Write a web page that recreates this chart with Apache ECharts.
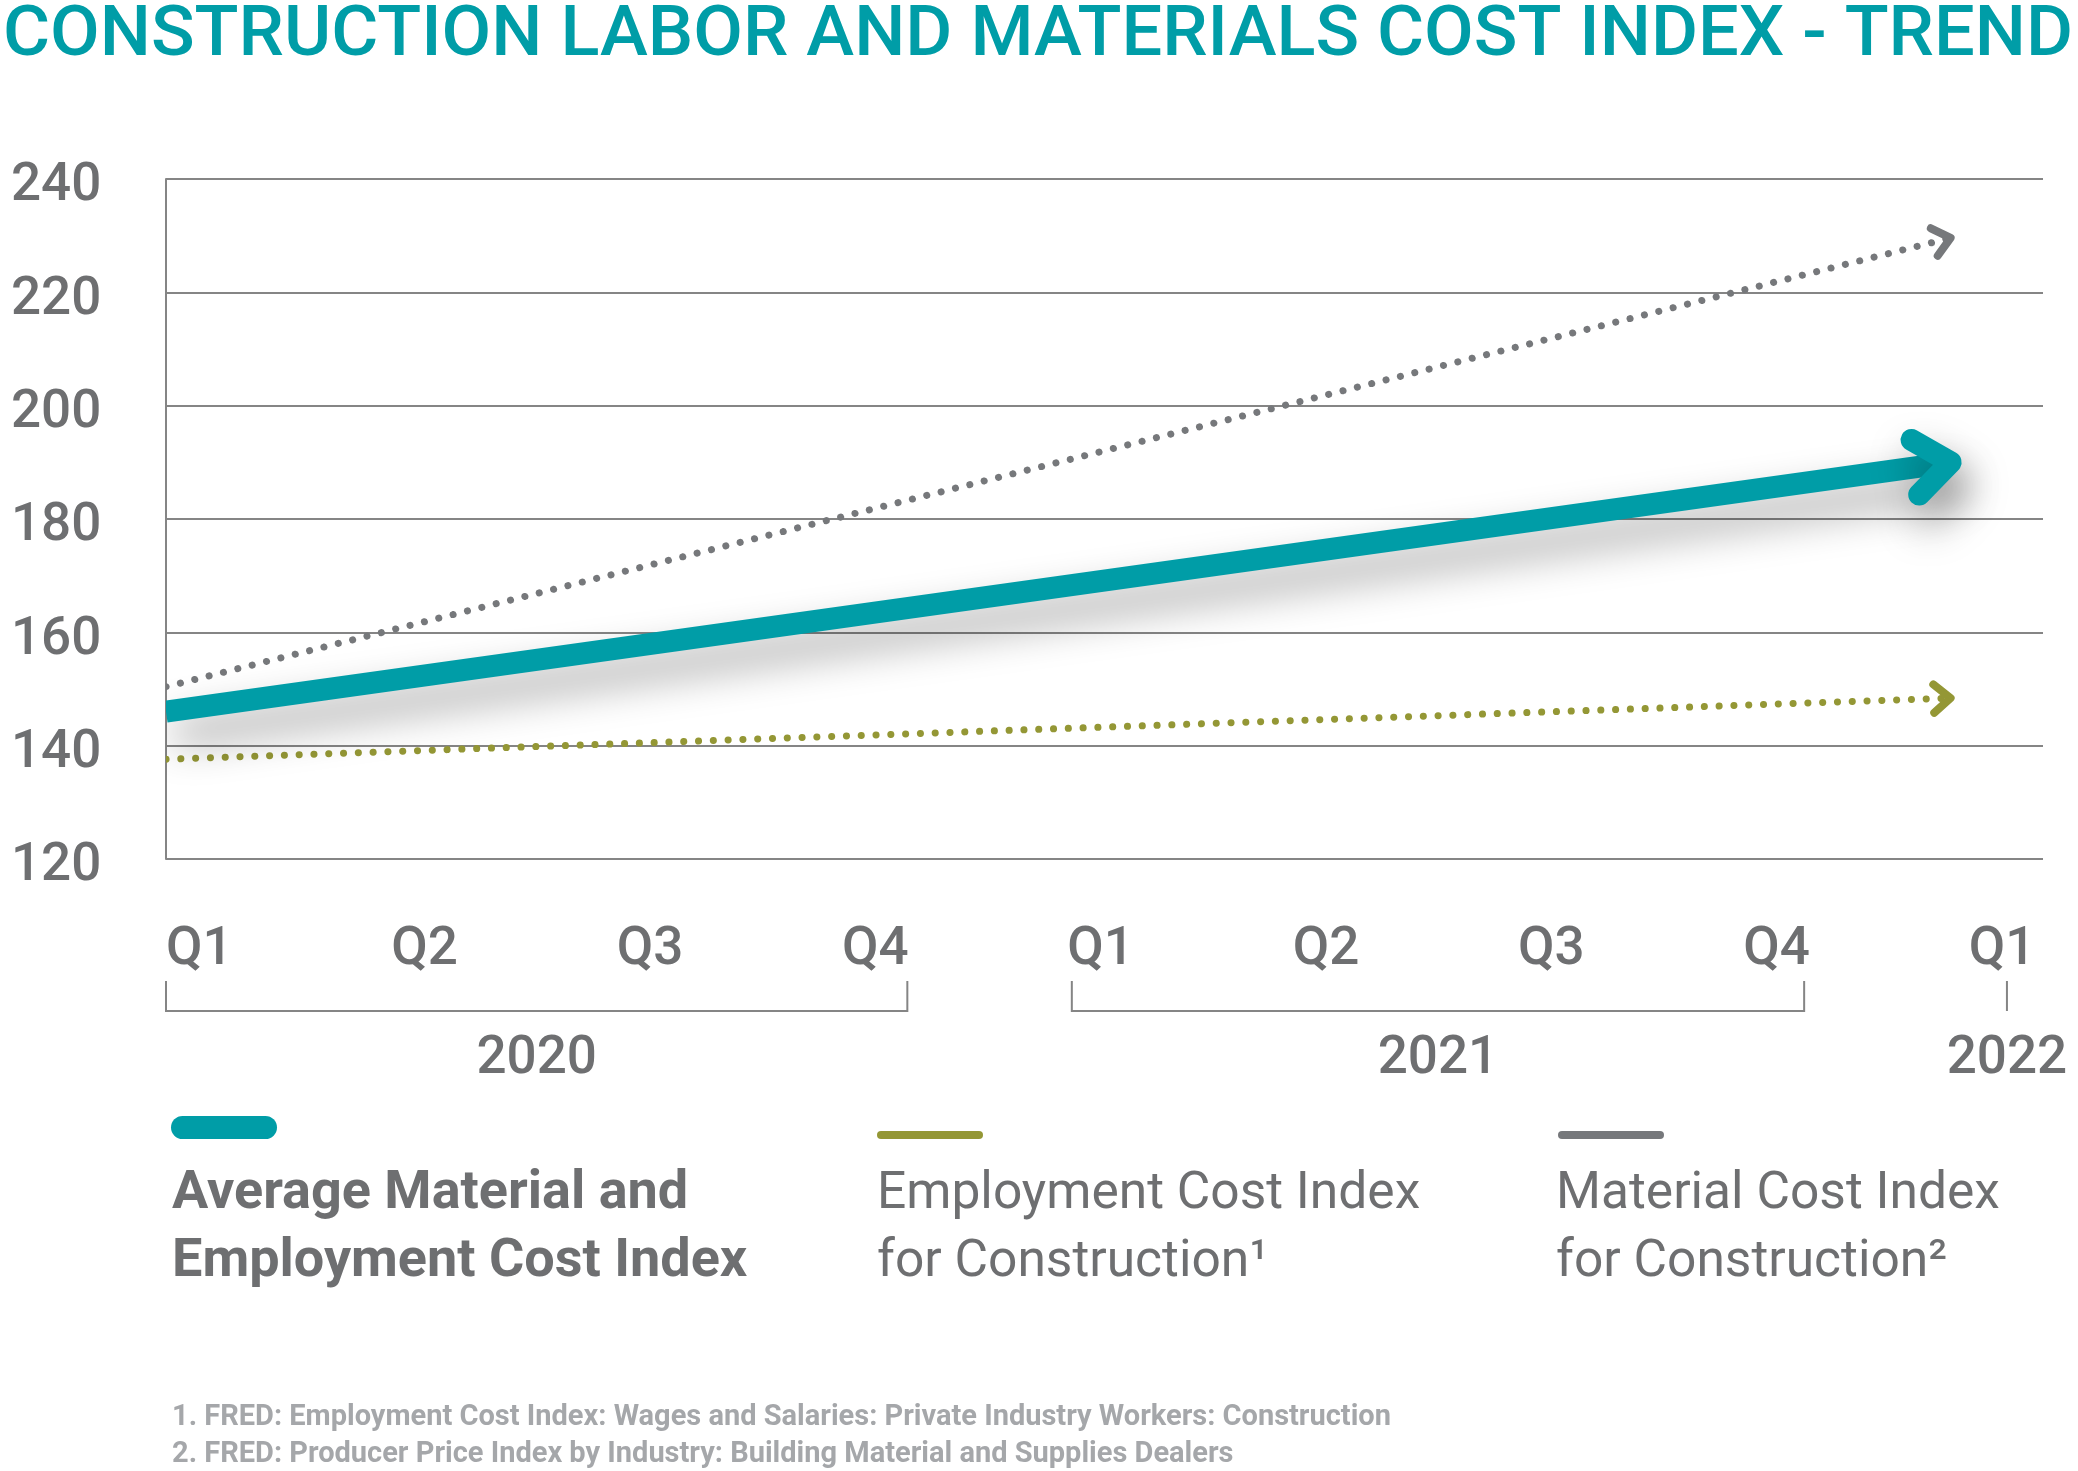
<!DOCTYPE html>
<html>
<head>
<meta charset="utf-8">
<title>Construction Labor and Materials Cost Index - Trend</title>
<script src="https://cdn.jsdelivr.net/npm/echarts@6/dist/echarts.min.js"></script>
<style>
  html, body { margin: 0; padding: 0; background: #fff; }
  #chart { width: 2078px; height: 1471px; }
</style>
</head>
<body>
<div id="chart"></div>
<script>
// x axis in quarter units, 0 = Q1 2020
const quarters = ['Q1', 'Q2', 'Q3', 'Q4', 'Q1', 'Q2', 'Q3', 'Q4', 'Q1'];
const years = ['2020', '2021', '2022'];
// bracket under each year (from / to, in quarter units)
const yearSpans = [[0, 3.29], [4.02, 7.27], [8.17, 8.17]];

// trend arrows: [start quarter, start index, end quarter, end index]
const avgIndex = [0, 146, 7.92, 190];
const employmentIndex = [0, 137.6, 7.92, 148.4];
const materialIndex = [0, 150.4, 7.92, 229.6];

const legendNames = [
  'Average Material and\nEmployment Cost Index',
  'Employment Cost Index\nfor Construction\u00b9',
  'Material Cost Index\nfor Construction\u00b2'
];
const footnotes = [
  '1. FRED: Employment Cost Index: Wages and Salaries: Private Industry Workers: Construction',
  '2. FRED: Producer Price Index by Industry: Building Material and Supplies Dealers'
];

const TEAL = '#009da7';
const OLIVE = '#949735';
const GRAY = '#76787b';
const TEXT = '#6e6f71';
const LINE = '#858585';

const titleText = 'CONSTRUCTION LABOR AND MATERIALS COST INDEX - TREND';
const titleFont = '500 70px Roboto';
const measure = document.createElement('canvas').getContext('2d');
measure.font = titleFont;
const titleScale = 2070 / measure.measureText(titleText).width;

// draws a straight trend line with a chevron head at its end
function arrow(opt) {
  return function (params, api) {
    const a = api.coord([api.value(0), api.value(1)]);
    const b = api.coord([api.value(2), api.value(3)]);
    const back = Math.atan2(a[1] - b[1], a[0] - b[0]);
    const arm = s => [
      b[0] + opt.head * Math.cos(back + s * opt.spread),
      b[1] + opt.head * Math.sin(back + s * opt.spread)
    ];
    const shadow = opt.shadow
      ? { shadowBlur: 40, shadowColor: 'rgba(0,0,0,0.38)', shadowOffsetX: 8, shadowOffsetY: 22 }
      : {};
    return {
      type: 'group',
      children: [
        {
          type: 'polyline',
          shape: { points: [a, b] },
          style: Object.assign({
            fill: null, stroke: opt.color, lineWidth: opt.width,
            lineCap: opt.dash ? 'round' : 'butt', lineDash: opt.dash || null
          }, shadow)
        },
        {
          type: 'polyline',
          shape: { points: [arm(1), b, arm(-1)] },
          style: Object.assign({
            fill: null, stroke: opt.color, lineWidth: opt.headWidth,
            lineCap: 'round', lineJoin: 'round'
          }, shadow)
        }
      ]
    };
  };
}

const chart = echarts.init(document.getElementById('chart'));

const axisFont = { color: TEXT, fontFamily: 'Roboto', fontWeight: 500, fontSize: 53, lineHeight: 53 };

chart.setOption({
  animation: false,
  backgroundColor: '#fff',
  grid: [
    { left: 166, top: 179, width: 1877, height: 680 },
    { left: 166, top: 981, width: 1877, height: 30 }
  ],
  xAxis: [
    {
      type: 'value', gridIndex: 0, min: 0, max: 8.33,
      axisLine: { show: false }, axisTick: { show: false }, splitLine: { show: false },
      axisLabel: Object.assign({
        customValues: quarters.map((q, i) => i),
        formatter: v => quarters[Math.round(v)],
        align: 'left', margin: 65
      }, axisFont)
    },
    {
      type: 'value', gridIndex: 1, min: 0, max: 8.33,
      axisLine: { show: false }, axisTick: { show: false }, splitLine: { show: false },
      axisLabel: Object.assign({
        customValues: yearSpans.map(s => (s[0] + s[1]) / 2),
        formatter: v => years[yearSpans.findIndex(s => Math.abs((s[0] + s[1]) / 2 - v) < 1e-6)],
        align: 'center', margin: 22
      }, axisFont)
    }
  ],
  yAxis: [
    {
      type: 'value', gridIndex: 0, min: 120, max: 240, interval: 20,
      axisLine: { show: true, lineStyle: { color: LINE, width: 2 } },
      axisTick: { show: false },
      splitLine: { show: true, lineStyle: { color: LINE, width: 2 } },
      axisLabel: Object.assign({}, axisFont, { align: 'left', verticalAlign: 'top', lineHeight: 16, margin: 155 })
    },
    { type: 'value', gridIndex: 1, min: 0, max: 1, show: false }
  ],
  graphic: [
    {
      type: 'text', x: 3, y: 37, scaleX: titleScale,
      style: { text: titleText, font: titleFont, fill: TEAL, verticalAlign: 'middle' }
    },
    { type: 'rect', shape: { x: 171, y: 1116, width: 106, height: 23, r: 11.5 }, style: { fill: TEAL } },
    { type: 'rect', shape: { x: 877, y: 1131, width: 106, height: 8, r: 4 }, style: { fill: OLIVE } },
    { type: 'rect', shape: { x: 1558, y: 1131, width: 106, height: 8, r: 4 }, style: { fill: GRAY } },
    {
      type: 'text', x: 172, y: 1160,
      style: { text: legendNames[0], font: 'bold 54px Roboto', fill: TEXT, lineHeight: 68, verticalAlign: 'top' }
    },
    {
      type: 'text', x: 877, y: 1161,
      style: { text: legendNames[1], font: '51.5px Roboto', fill: TEXT, lineHeight: 68, verticalAlign: 'top' }
    },
    {
      type: 'text', x: 1556, y: 1161,
      style: { text: legendNames[2], font: '51.5px Roboto', fill: TEXT, lineHeight: 68, verticalAlign: 'top' }
    },
    {
      type: 'text', x: 172, y: 1399,
      style: { text: footnotes.join('\n'), font: 'bold 29px Roboto', fill: '#a5a7aa', lineHeight: 37, verticalAlign: 'top' }
    }
  ],
  series: [
    {
      type: 'lines', coordinateSystem: 'cartesian2d', xAxisIndex: 1, yAxisIndex: 1,
      polyline: true, silent: true,
      lineStyle: { color: LINE, width: 2, opacity: 1 },
      data: yearSpans.map(s => ({ coords: [[s[0], 1], [s[0], 0], [s[1], 0], [s[1], 1]] }))
    },
    {
      name: 'Material Cost Index for Construction',
      type: 'custom', clip: true, xAxisIndex: 0, yAxisIndex: 0,
      encode: { x: [0, 2], y: [1, 3] },
      renderItem: arrow({ color: GRAY, width: 7, dash: [0.1, 14.7], head: 22, spread: 0.7, headWidth: 8 }),
      data: [materialIndex]
    },
    {
      name: 'Employment Cost Index for Construction',
      type: 'custom', clip: true, xAxisIndex: 0, yAxisIndex: 0,
      encode: { x: [0, 2], y: [1, 3] },
      renderItem: arrow({ color: OLIVE, width: 7, dash: [0.1, 14.7], head: 22, spread: 0.7, headWidth: 8 }),
      data: [employmentIndex]
    },
    {
      name: 'Average Material and Employment Cost Index',
      type: 'custom', clip: true, xAxisIndex: 0, yAxisIndex: 0,
      encode: { x: [0, 2], y: [1, 3] },
      renderItem: arrow({ color: TEAL, width: 22, head: 45, spread: 0.66, headWidth: 22, shadow: true }),
      data: [avgIndex]
    }
  ]
});
</script>
</body>
</html>
